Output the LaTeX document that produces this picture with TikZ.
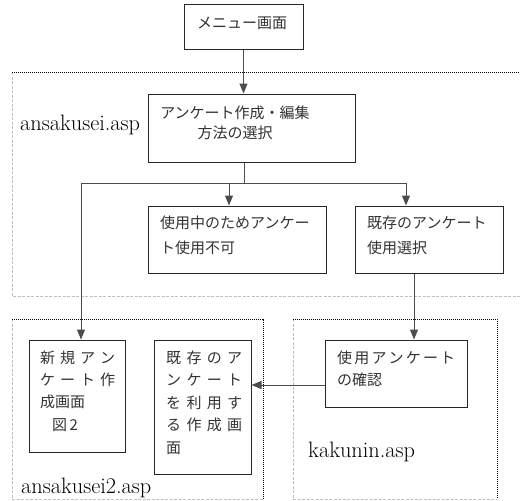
\documentclass[tikz,border=0pt]{standalone}
\usepackage{fontspec}
\newfontfamily\jp{Noto Sans CJK JP}
\usetikzlibrary{arrows.meta,calc}
\begin{document}
\begin{tikzpicture}[x=1pt,y=-1pt,
  box/.style={draw=black!85,line width=1pt,inner sep=0pt,fill=white},
  jtext/.style={font=\jp\fontsize{15}{#1}\selectfont,inner sep=0pt,align=left,text=black!80,anchor=north west},
  jtext/.default=20,
  lbl/.style={font=\fontsize{22.3}{26}\selectfont,inner sep=0pt,anchor=base west},
  conn/.style={draw=black!70,line width=1pt},
  arr/.style={conn,-{Triangle[width=8pt,length=10pt]}},
  dotline/.style={draw=black,line width=1pt,dash pattern=on 1.2pt off 0.8pt},
  grayline/.style={draw=black!25,line width=0.6pt,dash pattern=on 3pt off 1.5pt}]
\useasboundingbox (0,0) rectangle (520,501);
% group frames
\draw[grayline] (12,72) -- (12,296) -- (520,296);
\draw[dotline] (12,72) -- (520,72);
\draw[grayline] (12,319) -- (12,499) -- (263,499);
\draw[dotline] (12,319) -- (263,319) -- (263,499);
\draw[grayline] (293,319) -- (293,499) -- (497,499);
\draw[dotline] (293,319) -- (497,319) -- (497,499);
% labels
\node[lbl] (la) at (20,130) {ansakusei.asp};
\node[lbl] (lb) at (21,493) {ansakusei2.asp};
\node[lbl] (lc) at (308,457) {kakunin.asp};
% boxes
\node[box,minimum width=119pt,minimum height=45pt] (b1) at (243.5,26.5) {};
\node[box,minimum width=207pt,minimum height=68pt] (b2) at (251.5,128) {};
\node[box,minimum width=178pt,minimum height=67pt] (b3) at (237,239.5) {};
\node[box,minimum width=148pt,minimum height=67pt] (b4) at (429,239.5) {};
\node[box,minimum width=96pt,minimum height=112pt] (b5) at (77,396) {};
\node[box,minimum width=97pt,minimum height=134pt] (b6) at (202.5,407) {};
\node[box,minimum width=142pt,minimum height=67pt] (b7) at (396,373.5) {};
% texts
\node[jtext,anchor=center] (t1) at (242,23) {メニュー画面};
\node[jtext=20,anchor=center,align=center] (t2) at (235,123) {アンケート作成・編集\\方法の選択};
\node[jtext=25] (t3) at (160,215.5) {使用中のためアンケー\\ト使用不可};
\node[jtext=25] (t4) at (367,215.5) {既存のアンケート\\使用選択};
\node[jtext=22.3] (t5) at (40,350.5) {\makebox[75pt][s]{新\hfill 規\hfill ア\hfill ン}\\\makebox[75pt][s]{ケ\hfill ー\hfill ト\hfill 作}\\成画面\\\hspace*{12pt}図\,2};
\node[jtext=22.5] (t6) at (166,350.5) {\makebox[76pt][s]{既\hfill 存\hfill の\hfill ア}\\\makebox[76pt][s]{ン\hfill ケ\hfill ー\hfill ト}\\\makebox[76pt][s]{を\hfill 利\hfill 用\hfill す}\\\makebox[76pt][s]{る\hfill 作\hfill 成\hfill 画}\\面};
\node[jtext=22] (t7) at (337,350.5) {\makebox[118pt][s]{使\hfill 用\hfill ア\hfill ン\hfill ケ\hfill ー\hfill ト}\\の確認};
% connector points
\coordinate (j) at (244,183);
\coordinate (jl) at (81,183);
\coordinate (jm) at (229,183);
\coordinate (jr) at (406,183);
\coordinate (kx) at (414,0);
\coordinate (hy) at (0,385);
% connectors
\draw[arr] (b1.south) -- (b1.south |- b2.north);
\draw[conn] (j |- b2.south) -- (j);
\draw[conn] (jl) -- (jr);
\draw[arr] (jl) -- (jl |- b5.north);
\draw[arr] (jm) -- (jm |- b3.north);
\draw[arr] (jr) -- (jr |- b4.north);
\draw[arr] (kx |- b4.south) -- (kx |- b7.north);
\draw[arr] (b7.west |- hy) -- (b6.east |- hy);
\end{tikzpicture}
\end{document}
